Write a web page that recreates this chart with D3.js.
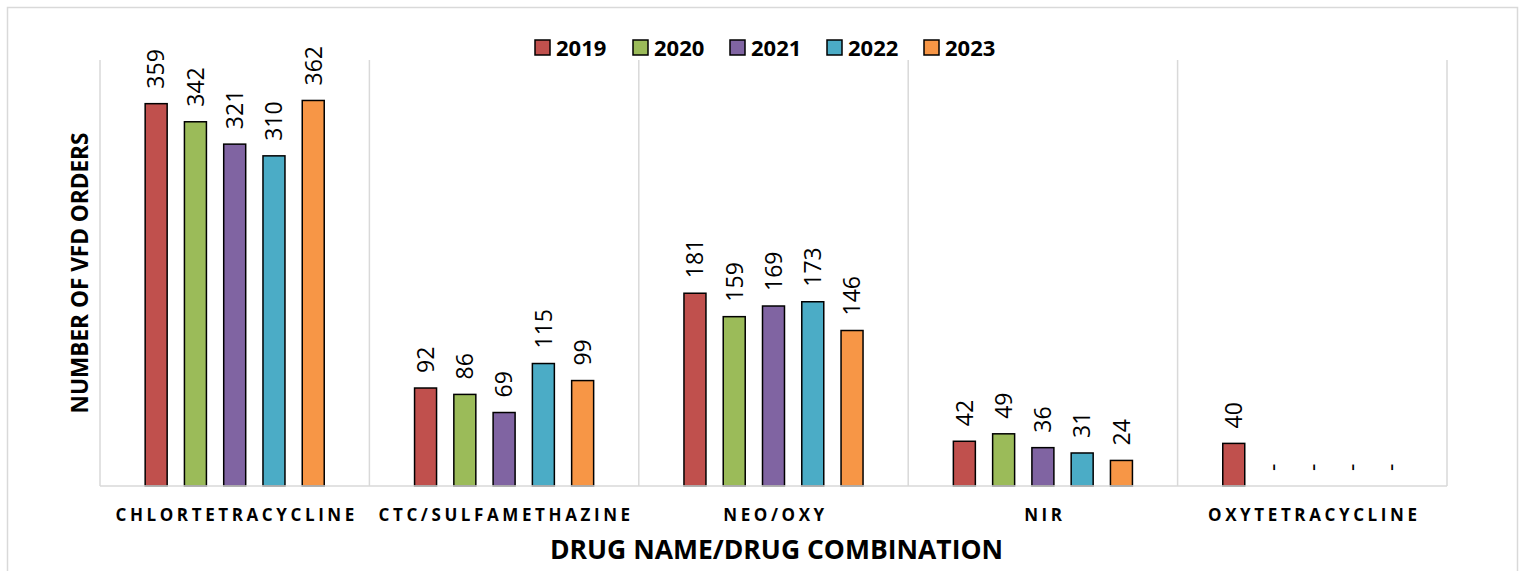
<!DOCTYPE html>
<html>
<head>
<meta charset="utf-8">
<script src="https://cdn.jsdelivr.net/npm/d3@7"></script>
<style>
  html, body { margin: 0; padding: 0; background: #fff; }
  svg { display: block; font-family: "Open Sans", "Noto Sans", sans-serif; }
</style>
</head>
<body>
<svg id="chart" width="1520" height="571"></svg>
<script>
const categories = ["CHLORTETRACYCLINE", "CTC/SULFAMETHAZINE", "NEO/OXY", "NIR", "OXYTETRACYCLINE"];
const years = ["2019", "2020", "2021", "2022", "2023"];
const values2019 = [359, 92, 181, 42, 40];
const values2020 = [342, 86, 159, 49, null];
const values2021 = [321, 69, 169, 36, null];
const values2022 = [310, 115, 173, 31, null];
const values2023 = [362, 99, 146, 24, null];
const seriesValues = [values2019, values2020, values2021, values2022, values2023];
const colors = ["#C0504D", "#9BBB59", "#8064A2", "#4BACC6", "#F79646"];
const yTitle = "NUMBER OF VFD ORDERS";
const xTitle = "DRUG NAME/DRUG COMBINATION";

const svg = d3.select("#chart");
const plot = { left: 100, right: 1447, top: 60, bottom: 486 };

// outer border
svg.append("rect").attr("x", 7.5).attr("y", 7.5).attr("width", 1510).attr("height", 580)
  .attr("fill", "none").attr("stroke", "#d9d9d9").attr("stroke-width", 1.5);

const x0 = d3.scaleBand().domain(categories).range([plot.left, plot.right]).padding(0);
const x1 = d3.scaleBand().domain(years).range([0, x0.bandwidth()]).paddingInner(0.44).paddingOuter(1.15);
const y = d3.scaleLinear().domain([0, 400]).range([plot.bottom, plot.top]);

// vertical gridlines (category separators)
const gridX = categories.map(c => x0(c)).concat([x0(categories[categories.length - 1]) + x0.bandwidth()]);
svg.append("g").selectAll("line").data(gridX).join("line")
  .attr("x1", d => d).attr("x2", d => d)
  .attr("y1", y(400)).attr("y2", y(0))
  .attr("stroke", "#d9d9d9").attr("stroke-width", 1.5);

// bars
const data = [];
categories.forEach((c, ci) => {
  years.forEach((yr, yi) => {
    data.push({ cat: c, year: yr, yi, value: seriesValues[yi][ci] });
  });
});

svg.append("g").selectAll("rect").data(data.filter(d => d.value != null)).join("rect")
  .attr("x", d => x0(d.cat) + x1(d.year))
  .attr("y", d => y(d.value))
  .attr("width", x1.bandwidth())
  .attr("height", d => y(0) - y(d.value))
  .attr("fill", d => colors[d.yi])
  .attr("stroke", "#000").attr("stroke-width", 1.5);

// baseline
svg.append("line").attr("x1", plot.left).attr("x2", plot.right)
  .attr("y1", y(0)).attr("y2", y(0))
  .attr("stroke", "#d9d9d9").attr("stroke-width", 1.5);

// data labels (rotated)
svg.append("g").selectAll("text").data(data).join("text")
  .attr("transform", d => {
    const cx = x0(d.cat) + x1(d.year) + x1.bandwidth() / 2;
    const cy = y(d.value == null ? 0 : d.value) - 15;
    return `translate(${cx},${cy}) rotate(-90)`;
  })
  .attr("dy", "0.36em")
  .attr("text-anchor", "start")
  .attr("font-size", 23)
  .attr("fill", "#000")
  .text(d => d.value == null ? "-" : d.value);

// category axis labels
const xAxis = d3.axisBottom(x0).tickSize(0).tickPadding(0);
const xg = svg.append("g").attr("transform", `translate(0,${y(0)})`).call(xAxis);
xg.select(".domain").remove();
xg.selectAll("text")
  .attr("x", 2)
  .attr("y", 34.5).attr("dy", 0)
  .attr("font-family", "'Open Sans', sans-serif")
  .attr("font-size", 17).attr("font-weight", "bold")
  .attr("letter-spacing", "3.6px")
  .attr("fill", "#000");

// axis titles
svg.append("text").attr("x", (plot.left + plot.right) / 2 + 3).attr("y", 559)
  .attr("text-anchor", "middle").attr("font-size", 26.5).attr("font-weight", "bold")
  .attr("fill", "#000").text(xTitle);

svg.append("text").attr("transform", `translate(88,${273}) rotate(-90)`)
  .attr("text-anchor", "middle").attr("font-size", 22.6).attr("font-weight", "bold")
  .attr("fill", "#000").text(yTitle);

// legend
const legendX = [535, 633, 730, 827, 924];
const lg = svg.append("g").selectAll("g").data(years).join("g")
  .attr("transform", (d, i) => `translate(${legendX[i]},${40})`);
lg.append("rect").attr("width", 15).attr("height", 15)
  .attr("fill", (d, i) => colors[i]).attr("stroke", "#000").attr("stroke-width", 1.5);
lg.append("text").attr("x", 21).attr("y", 15.5)
  .attr("font-size", 22).attr("font-weight", "bold").attr("fill", "#000")
  .text(d => d);
</script>
</body>
</html>
